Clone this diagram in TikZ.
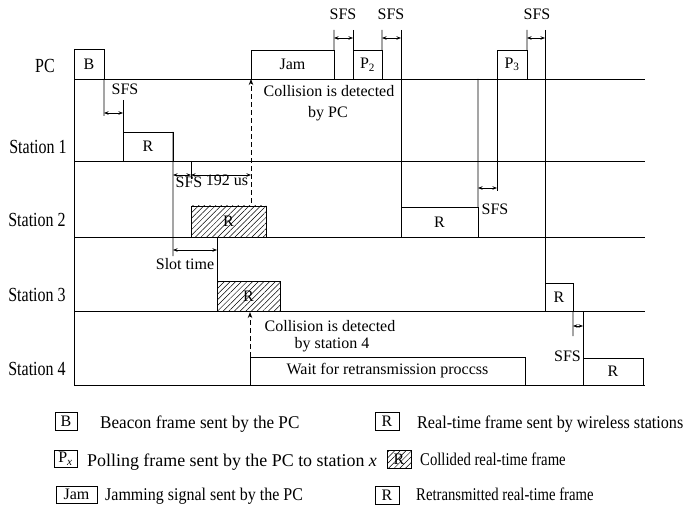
\documentclass[tikz,border=0pt]{standalone}
\usepackage{fontspec}
\setmainfont{Liberation Serif}
\usetikzlibrary{arrows.meta,patterns.meta}
\begin{document}
\begin{tikzpicture}[x=1bp,y=-1bp,
  every node/.style={inner sep=0pt, font=\fontsize{16bp}{19bp}\selectfont},
  lbl/.style={anchor=base},
  leg/.style={anchor=base west},
  frame/.style={draw, line width=0.9bp, anchor=north west, inner sep=0pt, outer sep=0pt, align=center},
  hatchframe/.style={frame, pattern={Lines[angle=45,distance=4bp,line width=0.5bp]}},
  ln/.style={line width=0.9bp},
  dimtip/.tip={Stealth[length=4.5bp,width=3.5bp]},
  dim/.style={line width=0.7bp, dimtip-dimtip},
  dasharrow/.style={line width=0.9bp, dash pattern=on 5bp off 3bp, -{Stealth[length=6bp,width=4.5bp]}}
]
\useasboundingbox (0,0) rectangle (685,506);

% baselines
\coordinate (pcL) at (74,79);  \coordinate (pcR) at (645,79);
\coordinate (s1L) at (74,161); \coordinate (s1R) at (645,161);
\coordinate (s2L) at (74,237); \coordinate (s2R) at (645,237);
\coordinate (s3L) at (74,311); \coordinate (s3R) at (645,311);
\coordinate (s4L) at (74,385); \coordinate (s4R) at (645,385);
\draw[ln] (pcL) -- (pcR);
\draw[ln] (s1L) -- (s1R);
\draw[ln] (s2L) -- (s2R);
\draw[ln] (s3L) -- (s3R);
\draw[ln] (s4L) -- (s4R);

% row labels
\node[lbl] (lPC) at (45,73) {\scalebox{1}[1.25]{PC}};
\node[lbl] (lS1) at (38,154) {\scalebox{1}[1.25]{Station 1}};
\node[lbl] (lS2) at (37,227) {\scalebox{1}[1.25]{Station 2}};
\node[lbl] (lS3) at (37,301) {\scalebox{1}[1.25]{Station 3}};
\node[lbl] (lS4) at (37,375) {\scalebox{1}[1.25]{Station 4}};

% frames
\node[frame, minimum width=30bp, minimum height=30bp] (B) at (74,49) {B};
\node[frame, minimum width=83bp, minimum height=29bp] (Jam) at (251,50) {Jam};
\node[frame, minimum width=29bp, minimum height=29bp] (P2) at (353,50) {P\textsubscript{2}};
\node[frame, minimum width=30bp, minimum height=29bp] (P3) at (497,50) {P\textsubscript{3}};
\node[frame, minimum width=50bp, minimum height=29bp] (R1) at (123,132) {R};
\node[hatchframe, minimum width=75bp, minimum height=31bp] (C2) at (191,206) {R};
\node[frame, minimum width=77bp, minimum height=30bp] (R2) at (401,207) {R};
\node[hatchframe, minimum width=63bp, minimum height=30bp] (C3) at (217,281) {R};
\node[frame, minimum width=28bp, minimum height=28bp] (R3) at (545,283) {R};
\node[frame, minimum width=275bp, minimum height=28bp] (W) at (250,357) {Wait for retransmission proccss};
\node[frame, minimum width=60bp, minimum height=27bp] (R4) at (583,358) {R};

% left axis
\draw[ln] (B.north west) -- (s4L);

% vertical markers
\coordinate (v1b) at (104,116); \draw[ln] (B.south east) -- (v1b);
\coordinate (v2t) at (123,100); \draw[ln] (v2t) -- (R1.north west);
\coordinate (v3b) at (173,256); \draw[ln] (R1.north east) -- (v3b);
\coordinate (v4t) at (191,161); \coordinate (v4b) at (191,179); \draw[ln] (v4t) -- (v4b);
\coordinate (v5t) at (217,237); \draw[ln] (v5t) -- (C3.north west);
\coordinate (v6t) at (334,30);  \draw[ln] (v6t) -- (Jam.north east);
\coordinate (v7t) at (353,30);  \draw[ln] (v7t) -- (P2.north west);
\coordinate (v8t) at (382,30);  \draw[ln] (v8t) -- (P2.north east);
\coordinate (v9t) at (401,30);  \draw[ln] (v9t) -- (R2.north west);
\coordinate (v10t) at (478,79); \draw[ln] (v10t) -- (R2.north east);
\coordinate (v11b) at (497,191); \draw[ln] (P3.south west) -- (v11b);
\coordinate (v12t) at (527,30); \draw[ln] (v12t) -- (P3.north east);
\coordinate (v13t) at (545,30); \draw[ln] (v13t) -- (R3.north west);
\coordinate (v14b) at (573,336); \draw[ln] (R3.south east) -- (v14b);
\coordinate (v15t) at (583,311); \draw[ln] (v15t) -- (R4.north west);

% collision detection arrows
\coordinate (d1s) at (251,203); \draw[dasharrow] (d1s) -- (Jam.south west);
\coordinate (d2e) at (250,312); \draw[dasharrow] (W.north west) -- (d2e);

% dimension arrows
\coordinate (a1l) at (104,113); \coordinate (a1r) at (123,113); \draw[dim] (a1l) -- (a1r);
\coordinate (a2l) at (173,175); \coordinate (a2m) at (191,175); \coordinate (a2r) at (251,175);
\draw[dim] (a2l) -- (a2m); \draw[dim] (a2m) -- (a2r);
\coordinate (a3l) at (173,250); \coordinate (a3r) at (217,250); \draw[dim] (a3l) -- (a3r);
\coordinate (a4l) at (334,38); \coordinate (a4r) at (353,38); \draw[dim] (a4l) -- (a4r);
\coordinate (a5l) at (382,38); \coordinate (a5r) at (401,38); \draw[dim] (a5l) -- (a5r);
\coordinate (a6l) at (527,38); \coordinate (a6r) at (545,38); \draw[dim] (a6l) -- (a6r);
\coordinate (a7l) at (478,188); \coordinate (a7r) at (497,188); \draw[dim] (a7l) -- (a7r);
\coordinate (a8l) at (573,326); \coordinate (a8r) at (583,326); \draw[dim] (a8l) -- (a8r);

% labels
\node[lbl] (t1) at (125,95) {SFS};
\node[lbl] (t2) at (189,188) {SFS};
\node[lbl] (t3) at (227,186) {192 us};
\node[lbl] (t4) at (185,270) {Slot time};
\node[lbl] (t5) at (343,20) {SFS};
\node[lbl] (t6) at (391,20) {SFS};
\node[lbl] (t7) at (537,20) {SFS};
\node[lbl] (t8) at (495,215) {SFS};
\node[lbl, anchor=base east] (t9) at (581,361) {SFS};
\node[lbl] (c1a) at (329,97) {Collision is detected};
\node[lbl] (c1b) at (328,118) {by PC};
\node[lbl] (c2a) at (330,331) {Collision is detected};
\node[lbl] (c2b) at (332,348) {by station 4};

% legend
\node[frame, minimum width=22bp, minimum height=18bp] (LB) at (55,412) {B};
\node[leg] (LBt) at (100,428) {\scalebox{1.07}[1.12]{Beacon frame sent by the PC}};
\node[frame, minimum width=23bp, minimum height=17bp] (LP) at (54,450) {P\textsubscript{\itshape x}};
\node[leg] (LPt) at (87,466) {\scalebox{1.12}[1.12]{Polling frame sent by the PC to station \textit{x}}};
\node[frame, minimum width=41bp, minimum height=17bp] (LJ) at (56,486) {Jam};
\node[leg] (LJt) at (105,500) {\scalebox{1}[1.12]{Jamming signal sent by the PC}};
\node[frame, minimum width=24bp, minimum height=18bp] (LR) at (375,412) {R};
\node[leg] (LRt) at (417,428) {\scalebox{1.01}[1.12]{Real-time frame sent by wireless stations}};
\node[hatchframe, minimum width=24bp, minimum height=18bp] (LC) at (387,450) {R};
\node[leg] (LCt) at (420,465) {\scalebox{0.92}[1.12]{Collided real-time frame}};
\node[frame, minimum width=24bp, minimum height=18bp] (LT) at (375,486) {R};
\node[leg] (LTt) at (416,500) {\scalebox{0.92}[1.12]{Retransmitted real-time frame}};
\end{tikzpicture}
\end{document}
